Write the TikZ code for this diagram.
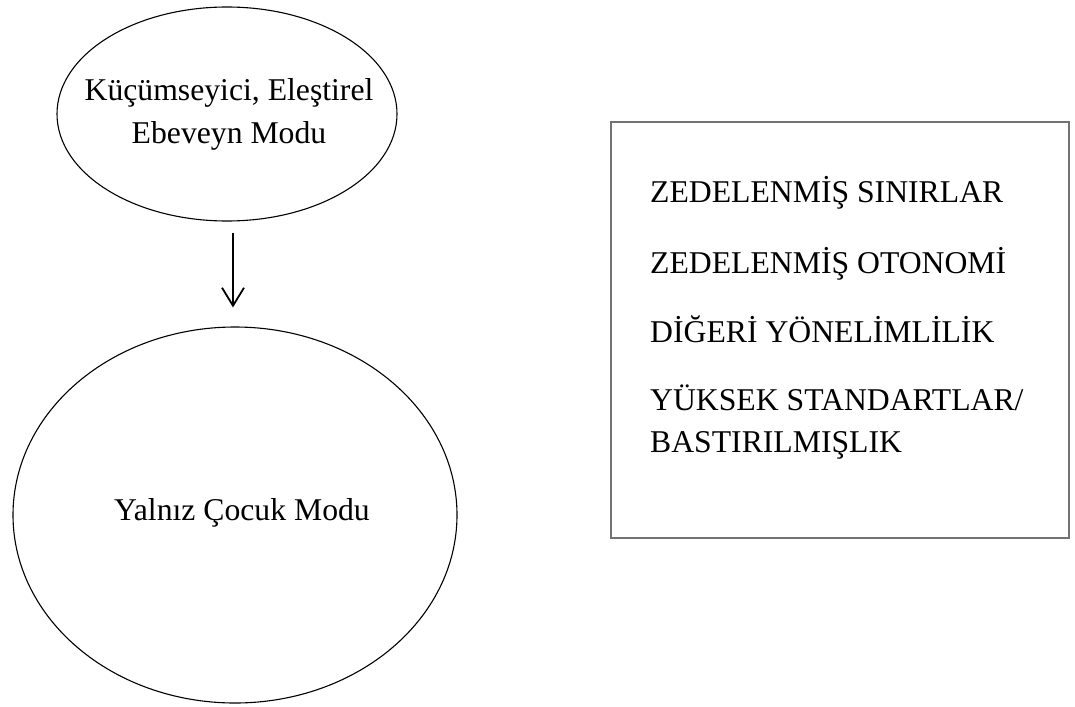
\documentclass[tikz,border=0pt]{standalone}
\usepackage{fontspec}
\setmainfont{Liberation Serif}
\usetikzlibrary{shapes.geometric,arrows.meta,calc}
\begin{document}
\begin{tikzpicture}[x=1pt,y=-1pt,
 oval/.style={draw, ellipse, line width=1.1pt, inner sep=0pt},
 lbl/.style={font=\fontsize{31.7}{43}\selectfont, inner sep=0pt},
 box/.style={draw=black!55, line width=1.4pt, inner sep=0pt},
 arr/.style={line width=1.8pt, -{Straight Barb[length=18pt,width=22pt]}}]
\useasboundingbox (0,0) rectangle (1075,706);
\node[oval, minimum width=340pt, minimum height=214pt] (top) at (227,114) {};
\node[oval, minimum width=444pt, minimum height=376pt] (big) at (235,515) {};
\node[lbl, anchor=base] (t1) at (229,101) {Küçümseyici, Eleştirel};
\node[lbl, anchor=base] (t2) at (229,143) {Ebeveyn Modu};
\node[lbl, anchor=base] (t3) at (242,520) {Yalnız Çocuk Modu};
\draw[arr, shorten <=11pt, shorten >=19pt] ([xshift=6pt]top.south) -- ([xshift=-2pt]big.north);
\node[box, minimum width=458pt, minimum height=416pt] (panel) at (840,330) {};
\node[lbl, anchor=base west] (s1) at (650,202) {ZEDELENMİŞ SINIRLAR};
\node[lbl, anchor=base west] (s2) at (650,273) {ZEDELENMİŞ OTONOMİ};
\node[lbl, anchor=base west] (s3) at (650,342) {DİĞERİ YÖNELİMLİLİK};
\node[lbl, anchor=base west] (s4) at (650,410) {YÜKSEK STANDARTLAR/};
\node[lbl, anchor=base west] (s5) at (650,452) {BASTIRILMIŞLIK};
\end{tikzpicture}
\end{document}
